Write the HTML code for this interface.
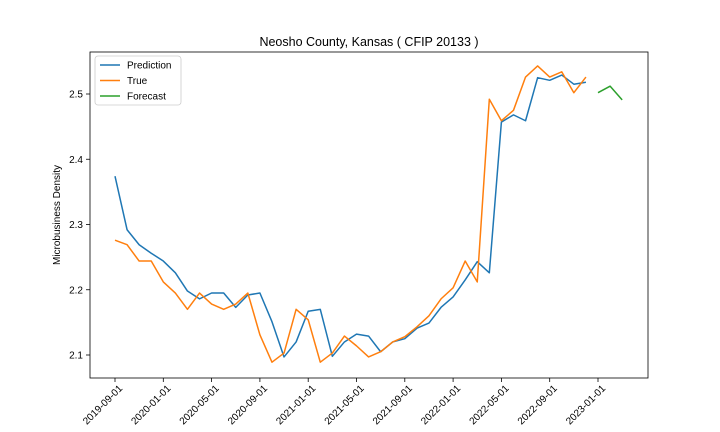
<!DOCTYPE html>
<html><head><meta charset="utf-8"><style>
body{margin:0;background:#fff;}
svg{display:block;font-family:"Liberation Sans","DejaVu Sans",sans-serif;}
</style></head><body>
<svg id="c" width="720" height="432"></svg>
<script>
const months=["2019-09-01","2020-01-01","2020-05-01","2020-09-01","2021-01-01","2021-05-01","2021-09-01","2022-01-01","2022-05-01","2022-09-01","2023-01-01"];
const yTicks=[2.1,2.2,2.3,2.4,2.5];
const prediction=[2.374,2.292,2.269,2.256,2.244,2.226,2.198,2.186,2.195,2.195,2.173,2.192,2.195,2.151,2.097,2.120,2.167,2.170,2.098,2.120,2.132,2.129,2.105,2.120,2.125,2.141,2.149,2.173,2.189,2.215,2.243,2.226,2.457,2.468,2.459,2.525,2.521,2.529,2.515,2.518];
const trueVals=[2.276,2.269,2.244,2.244,2.212,2.195,2.170,2.195,2.178,2.170,2.178,2.195,2.131,2.089,2.103,2.170,2.154,2.089,2.103,2.129,2.114,2.097,2.105,2.120,2.128,2.143,2.160,2.186,2.203,2.244,2.212,2.492,2.459,2.475,2.526,2.543,2.526,2.534,2.502,2.526];
const forecast=[2.502,2.512,2.491];
const forecastStart=40;

const svg=document.getElementById('c');
const NS='http://www.w3.org/2000/svg';
const L=90,R=648,T=52,B=378;
const x0=115,dx=12.075;
const X=i=>x0+i*dx;
const Y=v=>94+(2.5-v)*652.5;
function el(tag,attrs,parent){const e=document.createElementNS(NS,tag);for(const k in attrs)e.setAttribute(k,attrs[k]);(parent||svg).appendChild(e);return e;}

const title=el('text',{x:369,y:46,'text-anchor':'middle','font-size':12.5,fill:'#000'});
title.textContent='Neosho County, Kansas ( CFIP 20133 )';



const ylab=el('text',{x:0,y:0,'text-anchor':'middle','font-size':10,transform:'translate(60,215) rotate(-90)'});
ylab.textContent='Microbusiness Density';



yTicks.forEach(v=>{
  const y=Y(v);
  const t=el('line',{x1:L-4,x2:L,y1:y,y2:y,stroke:'#000','stroke-width':0.8});
  
  
  const tx=el('text',{x:L-7,y:y+3.5,'text-anchor':'end','font-size':10});
  tx.textContent=v.toFixed(1);
  
  
});
months.forEach((m,k)=>{
  const x=X(k*4);
  const t=el('line',{x1:x,x2:x,y1:B,y2:B+4,stroke:'#000','stroke-width':0.8});
  
  
  const tx=el('text',{x:0,y:0,'text-anchor':'end','font-size':10,transform:`translate(${x+8},${B+11}) rotate(-45)`});
  tx.textContent=m;
  
  
});

function line(vals,start,color,name){
  const p=el('polyline',{points:vals.map((v,i)=>X(i+start)+','+Y(v)).join(' '),fill:'none',stroke:color,'stroke-width':1.5,'stroke-linejoin':'round'});
  
  
}
line(prediction,0,'#1f77b4','prediction-line');
line(trueVals,0,'#ff7f0e','true-line');
line(forecast,forecastStart,'#2ca02c','forecast-line');

const frame=el('rect',{x:L,y:T,width:R-L,height:B-T,fill:'none',stroke:'#000','stroke-width':0.8});



const lg=el('g',{});


el('rect',{x:95,y:56,width:86,height:49,rx:3,fill:'#fff',stroke:'#ccc','stroke-width':0.8},lg);
[['Prediction','#1f77b4'],['True','#ff7f0e'],['Forecast','#2ca02c']].forEach((d,i)=>{
  const y=65+i*15.5;
  const ln=el('line',{x1:100,x2:120,y1:y,y2:y,stroke:d[1],'stroke-width':1.5},lg);
  
  
  const t=el('text',{x:127,y:y+3.5,'font-size':10},lg);
  t.textContent=d[0];
  
  
});
</script>
</body></html>
